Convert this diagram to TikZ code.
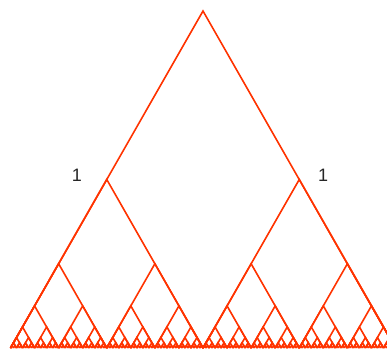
\documentclass[tikz,border=0pt]{standalone}
\usepackage{fontspec}
\setmainfont{Liberation Sans}
\definecolor{fract}{HTML}{FF3300}
\begin{document}
\begin{tikzpicture}[x=1pt,y=-1pt,
  fractline/.style={draw=fract,line width=1.6pt},
  lbl/.style={font=\fontsize{18}{18}\selectfont,text=black!85,inner sep=0pt}]
\useasboundingbox (0,0) rectangle (387,349);
\clip (0,0) rectangle (387,349);
\foreach \k in {0,...,7} {
  \pgfmathtruncatemacro\n{2^\k-1}
  \pgfmathsetmacro\w{385/2^\k}
  \pgfmathsetmacro\h{337/2^\k}
  \foreach \i in {0,...,\n} {
    \pgfmathsetmacro\xl{10.5+\w*\i}
    \draw[fractline] (\xl,348) -- ++(\w/2,-\h) -- ++(\w/2,\h);
  }
}
\node[lbl] (la) at (77,175) {1};
\node[lbl] (lb) at (323,175) {1};
\end{tikzpicture}
\end{document}
